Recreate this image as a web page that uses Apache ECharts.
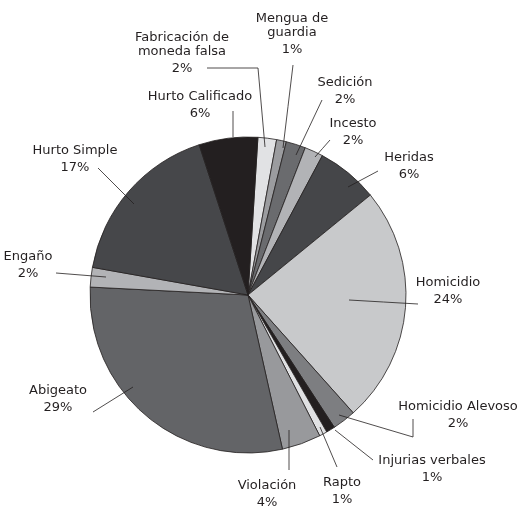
<!DOCTYPE html>
<html>
<head>
<meta charset="utf-8">
<script src="https://cdn.jsdelivr.net/npm/echarts@6/dist/echarts.min.js"></script>
<style>html,body{margin:0;padding:0;background:#fff;}#c{width:521px;height:507px;}</style>
</head>
<body>
<div id="c"></div>
<script>
// ---- data ----
const categories = ['Fabricación de\nmoneda falsa', 'Mengua de\nguardia', 'Sedición', 'Incesto', 'Heridas', 'Homicidio', 'Homicidio Alevoso', 'Injurias verbales', 'Rapto', 'Violación', 'Abigeato', 'Engaño', 'Hurto Simple', 'Hurto Calificado'];
const values = [1.9, 1.0, 2.0, 1.9, 6.3, 24.3, 2.4, 0.9, 0.8, 4.0, 29.3, 2.0, 17.2, 6.0];
const pctLabels = ['2%', '1%', '2%', '2%', '6%', '24%', '2%', '1%', '1%', '4%', '29%', '2%', '17%', '6%'];
const colors = ['#e1e2e4', '#9b9c9f', '#6a6b6e', '#b2b3b6', '#454649', '#c8c9cb', '#7d7e81', '#231f20', '#e0e1e3', '#98999c', '#636467', '#b2b3b6', '#46474a', '#231f20'];

// ---- layout (label placement and leader lines, not data) ----
const cx = 248, cy = 295, R = 158, startOffset = 3.6;
const labelSpec = [
  {x: 182, y: 38, start: [265, 147], elbow: [258, 68], end: [207, 68]},
  {x: 292, y: 19, start: [283, 148], end: [293, 65]},
  {x: 345, y: 83, start: [296, 155], end: [322, 100]},
  {x: 353, y: 124, start: [315, 157], end: [330, 140]},
  {x: 409, y: 158, start: [348, 187], end: [378, 171]},
  {x: 448, y: 283, start: [349, 300], end: [418, 304]},
  {x: 458, y: 407, start: [339, 415], elbow: [413, 437], end: [413, 419]},
  {x: 432, y: 461, start: [335, 430], end: [373, 460]},
  {x: 342, y: 483, start: [320, 427], end: [337, 467]},
  {x: 267, y: 486, start: [289, 430], end: [289, 470]},
  {x: 58, y: 391, start: [133, 387], end: [93, 412]},
  {x: 28, y: 257, start: [106, 277], end: [56, 273]},
  {x: 75, y: 151, start: [134, 204], end: [98, 168]},
  {x: 200, y: 97, start: [233, 137], end: [233, 111]}
];

const baseSeries = {
  type: 'pie',
  center: [cx, cy],
  radius: R,
  startAngle: 90 - startOffset,
  clockwise: true,
  avoidLabelOverlap: false,
  silent: true
};

const chart = echarts.init(document.getElementById('c'), null, {renderer: 'canvas'});
chart.setOption({
  animation: false,
  backgroundColor: '#ffffff',
  series: [
    Object.assign({}, baseSeries, {
      z: 2,
      data: categories.map((n, i) => ({name: n, value: values[i], itemStyle: {color: colors[i]}})),
      itemStyle: {borderColor: '#231f20', borderWidth: 0.8},
      label: {show: false},
      labelLine: {show: false}
    }),
    Object.assign({}, baseSeries, {
      z: 5,
      data: categories.map((n, i) => ({name: n, value: values[i]})),
      itemStyle: {color: 'rgba(0,0,0,0)', borderWidth: 0},
      label: {
        show: true,
        formatter: p => '{n|' + p.name + '}\n{p|' + pctLabels[p.dataIndex] + '}',
        rich: {
          n: {fontFamily: 'DejaVu Sans', fontSize: 13, lineHeight: 14, color: '#231f20', align: 'center'},
          p: {fontFamily: 'DejaVu Sans', fontSize: 13, lineHeight: 20, color: '#231f20', align: 'center'}
        }
      },
      labelLine: {show: true, showAbove: true, length: 10, length2: 10, smooth: false, lineStyle: {color: '#231f20', width: 0.8}},
      labelLayout: function (params) {
        const L = labelSpec[params.dataIndex];
        const mid = L.elbow || [(L.start[0] + L.end[0]) / 2, (L.start[1] + L.end[1]) / 2];
        return {x: L.x, y: L.y - 7, align: 'center', verticalAlign: 'top', labelLinePoints: [L.start, mid, L.end]};
      }
    })
  ]
});
</script>
</body>
</html>
